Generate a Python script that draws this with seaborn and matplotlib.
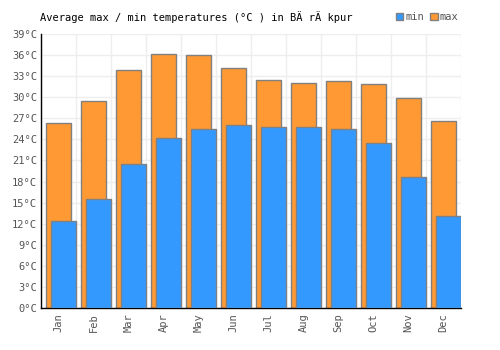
import seaborn as sns
import matplotlib.pyplot as plt
from matplotlib.patches import Patch
from matplotlib.ticker import MultipleLocator
import numpy as np

months = ['Jan', 'Feb', 'Mar', 'Apr', 'May', 'Jun', 'Jul', 'Aug', 'Sep', 'Oct', 'Nov', 'Dec']
max_temp = [26.3, 29.4, 33.9, 36.1, 36.0, 34.1, 32.4, 32.0, 32.3, 31.9, 29.9, 26.6]
min_temp = [12.4, 15.5, 20.5, 24.2, 25.5, 26.0, 25.7, 25.7, 25.5, 23.5, 18.6, 13.1]
yticks = list(range(0, 40, 3))

orange = '#ff9933'
blue = '#3399ff'
edge = '#808080'
mono = 'DejaVu Sans Mono'

sns.set_style('white')
plt.rcParams['font.family'] = [mono]

fig = plt.figure(figsize=(5, 3.5), dpi=100)
ax = fig.add_axes([0.082, 0.12, 0.84, 0.783])

sns.barplot(x=months, y=max_temp, color=orange, width=0.69, edgecolor=edge,
            linewidth=1, saturation=1, ax=ax, zorder=2)
n_max = len(ax.patches)
sns.barplot(x=months, y=min_temp, color=blue, width=0.71, edgecolor=edge,
            linewidth=1, saturation=1, ax=ax, zorder=3)
# min bars sit shifted to the right of the max bars
for p in ax.patches[n_max:]:
    p.set_x(p.get_x() + 0.15)

ax.set_xlim(-0.5, len(months) - 0.5)
ax.set_ylim(0, 39)
ax.set_yticks(yticks)
ax.set_yticklabels([f'{t}°C' for t in yticks])
ax.xaxis.set_minor_locator(MultipleLocator(1, offset=0.5))
ax.grid(axis='y', which='major', color='#eeeeee', linewidth=1, zorder=0)
ax.grid(axis='x', which='minor', color='#eeeeee', linewidth=1, zorder=0)
ax.set_axisbelow(True)
ax.tick_params(axis='x', which='both', length=0, labelrotation=90, labelsize=7.5,
               labelcolor='#555555', pad=4)
ax.tick_params(axis='y', length=0, labelsize=7.5, labelcolor='#555555', pad=3)
for s in ['top', 'right']:
    ax.spines[s].set_visible(False)
for s in ['left', 'bottom']:
    ax.spines[s].set_color('black')
    ax.spines[s].set_linewidth(1)
ax.set_xlabel('')
ax.set_ylabel('')

fig.text(0.08, 0.952, 'Average max / min temperatures (°C ) in BÄ rÄ kpur',
         fontsize=7.5, color='black', va='center', ha='left')

handles = [Patch(facecolor=blue, edgecolor=edge, label='min'),
           Patch(facecolor=orange, edgecolor=edge, label='max')]
fig.legend(handles=handles, loc='center right', bbox_to_anchor=(0.925, 0.952),
           ncol=2, frameon=False, fontsize=7.5, handlelength=0.7, handleheight=0.7,
           handletextpad=0.2, columnspacing=0.6, borderaxespad=0, labelcolor='#555555')

fig.savefig('out.png', dpi=100)
